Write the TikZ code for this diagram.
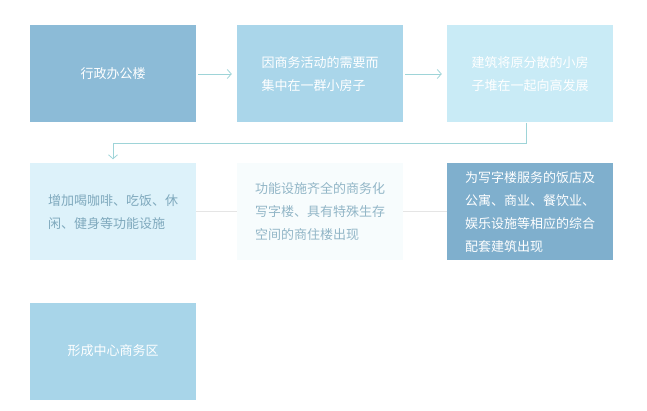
\documentclass[tikz,border=0pt]{standalone}
\usepackage{fontspec}
\newfontfamily\cjk{Noto Sans CJK SC}
\usetikzlibrary{arrows.meta}
\definecolor{stepA}{HTML}{8CBBD7}
\definecolor{stepB}{HTML}{AAD6EA}
\definecolor{stepC}{HTML}{C9EBF6}
\definecolor{stepD}{HTML}{DDF2FA}
\definecolor{stepE}{HTML}{F7FCFD}
\definecolor{stepF}{HTML}{7FAFCD}
\definecolor{stepG}{HTML}{A8D5E9}
\definecolor{flowline}{HTML}{9ED4D8}
\definecolor{softtext}{HTML}{7FA9BD}
\begin{document}
\begin{tikzpicture}[x=1pt,y=-1pt,
  box/.style={minimum width=166pt,minimum height=97pt,inner sep=0pt,align=left,
    text=white,font=\cjk\fontsize{13}{23}\selectfont},
  flow/.style={draw=flowline,line width=0.8pt,-{Straight Barb[length=4pt,width=9pt]}},
  link/.style={draw=gray!20,line width=1pt}]
\useasboundingbox (0,0) rectangle (647,411);

% Top row
\node[box,fill=stepA] (B1) at (113,74) {行政办公楼};
\node[box,fill=stepB] (B2) at (320,74) {因商务活动的需要而\\集中在一群小房子};
\node[box,fill=stepC] (B3) at (530,74) {建筑将原分散的小房\\子堆在一起向高发展};
\draw[flow,shorten <=2pt,shorten >=5pt] (B1) -- (B2);
\draw[flow,shorten <=2pt,shorten >=5pt] (B2) -- (B3);

% Second row
\node[box,fill=stepD,text=softtext] (B4) at (113,212) {增加喝咖啡、吃饭、休\\闲、健身等功能设施};
\node[box,fill=stepE,text=softtext!85] (B5) at (320,212) {功能设施齐全的商务化\\写字楼、具有特殊生存\\空间的商住楼出现};
\node[box,fill=stepF] (B6) at (530,212) {为写字楼服务的饭店及\\公寓、商业、餐饮业、\\娱乐设施等相应的综合\\配套建筑出现};
\draw[link] (B4) -- (B5);
\draw[link] (B5) -- (B6);

% Back to second row
\draw[flow,shorten >=4pt] ([xshift=-4pt]B3.south) -- ++(0,21) -| (B4.north);

% Last row
\node[box,fill=stepG] (B7) at (113,351) {形成中心商务区};
\end{tikzpicture}
\end{document}
